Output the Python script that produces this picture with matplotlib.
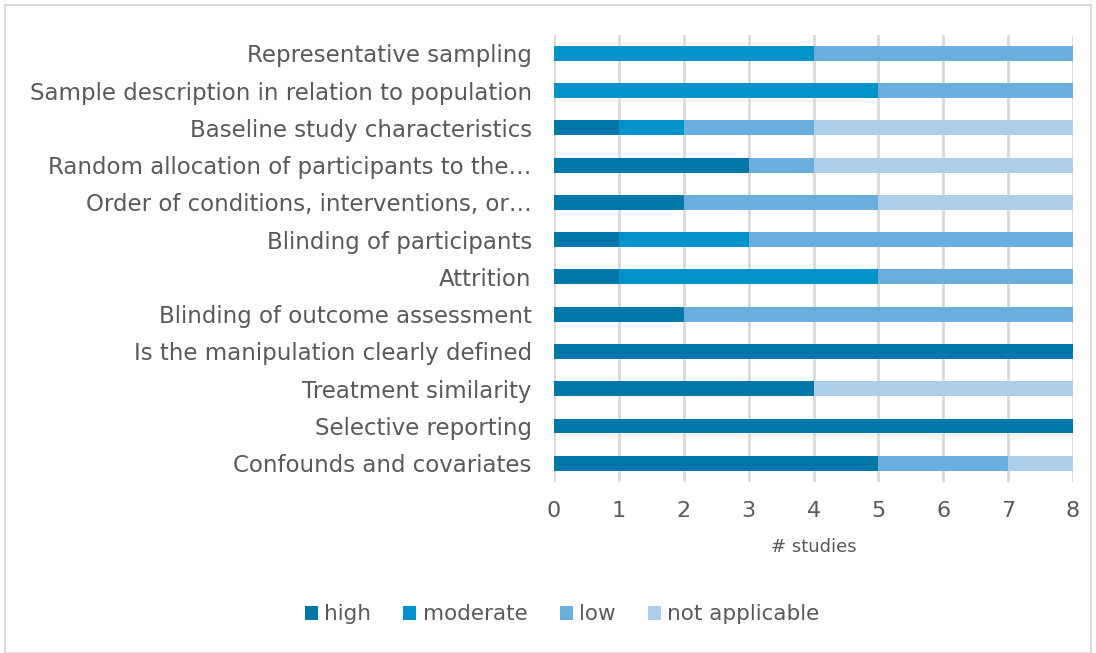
import matplotlib.pyplot as plt
from matplotlib.patches import Rectangle
import numpy as np

# categories, top to bottom as in the chart
categories = [
    "Representative sampling",
    "Sample description in relation to population",
    "Baseline study characteristics",
    "Random allocation of participants to the…",
    "Order of conditions, interventions, or…",
    "Blinding of participants",
    "Attrition",
    "Blinding of outcome assessment",
    "Is the manipulation clearly defined",
    "Treatment similarity",
    "Selective reporting",
    "Confounds and covariates",
]
high = [0, 0, 1, 3, 2, 1, 1, 2, 8, 4, 8, 5]
moderate = [4, 5, 1, 0, 0, 2, 4, 0, 0, 0, 0, 0]
low = [4, 3, 2, 1, 3, 5, 3, 6, 0, 0, 0, 2]
not_applicable = [0, 0, 4, 4, 3, 0, 0, 0, 0, 4, 0, 1]

series = [
    ("high", high, "#0077A8"),
    ("moderate", moderate, "#0092C8"),
    ("low", low, "#6AAEDE"),
    ("not applicable", not_applicable, "#ADCDEB"),
]

plt.rcParams['font.family'] = ['DejaVu Sans']
txt = "#595959"

fig = plt.figure(figsize=(10.96, 6.53), dpi=100)
ax = fig.add_axes([0.5055, 0.262, 0.4735, 0.685])

y = np.arange(len(categories))
left = np.zeros(len(categories))
for name, vals, col in series:
    ax.barh(y, vals, left=left, height=0.4, color=col, label=name, zorder=3)
    left += np.array(vals)

ax.set_ylim(len(categories) - 0.5, -0.5)
ax.set_xlim(0, 8)
ax.set_xticks(range(9))
ax.set_yticks(y)
ax.set_yticklabels(categories, fontsize=16.5, color=txt)
ax.tick_params(axis='x', labelsize=16, labelcolor=txt, length=0, pad=14)
ax.tick_params(axis='y', length=0, pad=16)
ax.grid(axis='x', color="#D9D9D9", linewidth=2, zorder=0)
for s in ax.spines.values():
    s.set_visible(False)
ax.set_xlabel("# studies", fontsize=13, color=txt, labelpad=12)

leg = fig.legend(loc='center', bbox_to_anchor=(0.513, 0.059), ncol=4, frameon=False,
                 fontsize=15.5, handlelength=0.6, handleheight=0.6, handletextpad=0.3,
                 columnspacing=1.5)
for t in leg.get_texts():
    t.set_color(txt)

fig.patches.append(Rectangle((5 / 1096, 0.0), 1 - 10 / 1096, 1 - 5 / 653, transform=fig.transFigure,
                             fill=False, edgecolor="#D9D9D9", linewidth=1.5))

fig.savefig("out.png", dpi=100)
